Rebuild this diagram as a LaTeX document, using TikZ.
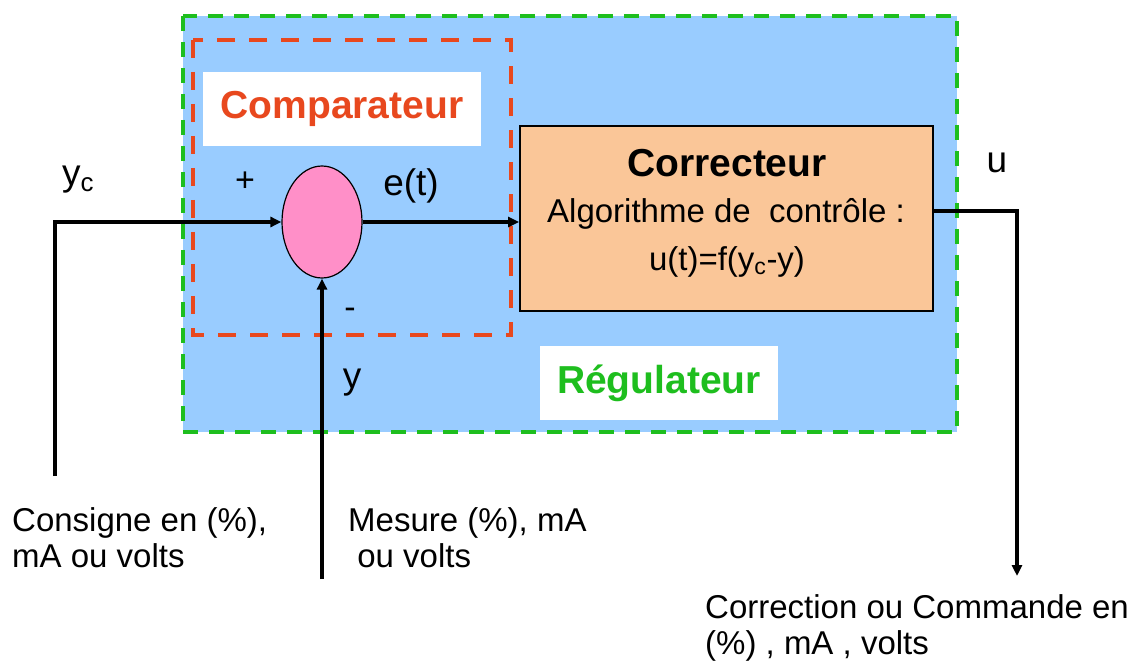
\documentclass[tikz,border=0pt]{standalone}
\usepackage{fontspec}
\setmainfont{Liberation Sans}
\usetikzlibrary{shapes.geometric,arrows.meta}
\definecolor{bgblue}{RGB}{153,204,255}
\definecolor{dgreen}{RGB}{30,190,30}
\definecolor{dred}{RGB}{232,72,30}
\definecolor{peach}{RGB}{250,198,152}
\definecolor{pinkish}{RGB}{255,143,200}
\tikzset{
  conn/.style={line width=3.4pt,-{Triangle[length=11pt,width=10pt]}},
  txt/.style={font=\fontsize{33}{36}\selectfont,inner sep=0pt},
  bigtxt/.style={font=\fontsize{37}{40}\selectfont,inner sep=0pt},
  title/.style={font=\fontsize{39}{42}\selectfont\bfseries,inner sep=0pt},
  sign/.style={font=\fontsize{34}{36}\selectfont,inner sep=0pt},
  whitebox/.style={fill=white,draw=none,minimum width=#1,minimum height=74pt,inner sep=0pt}
}
\begin{document}
\begin{tikzpicture}[x=1pt,y=-1pt]
\useasboundingbox (0,0) rectangle (1136,671);
% Regulateur frame
\draw[fill=bgblue,draw=dgreen,line width=4.5pt,dash pattern=on 15pt off 11pt] (183,16) rectangle (957,432);
% Comparateur frame
\draw[draw=dred,line width=4.5pt,dash pattern=on 18pt off 14pt] (193,40) rectangle (511,335);
% labels in white boxes
\node[whitebox=278pt,title,text=dred] (comp) at (342,109) {Comparateur};
\node[whitebox=238pt,title,text=dgreen] (reg) at (659,383) {Régulateur};
% Correcteur block
\node[draw=black,line width=1.8pt,fill=peach,minimum width=413pt,minimum height=185pt,inner sep=0pt] (corr) at (726.5,218.5) {};
\node[title] (corrt) at (727,163) {Correcteur};
\node[txt] (algo) at (726,214) {Algorithme de\ \ contrôle :};
\node[txt] (law) at (727,262) {u(t)=f(y\textsubscript{c}-y)};
% summing junction
\node[ellipse,draw=black,line width=1.2pt,fill=pinkish,minimum width=80pt,minimum height=112pt,inner sep=0pt] (sum) at (322,222) {};
% small labels
\node[sign] (plus) at (245,182) {+};
\node[sign] (minus) at (350,313) {-};
\node[bigtxt] (et) at (411,186) {e(t)};
\node[bigtxt] (ylab) at (352,383) {y};
\node[bigtxt] (ulab) at (997,163) {u};
\node[bigtxt] (yc) at (78,180) {y\textsubscript{c}};
% bottom texts
\node[txt,anchor=west,align=left] (cons) at (12,538) {Consigne en (\%),\\mA ou volts};
\node[txt,anchor=west,align=left] (mes) at (348,538) {Mesure (\%), mA\\\ ou volts};
\node[txt,anchor=west,align=left] (cmd) at (705,628) {Correction ou Commande en\\(\%) , mA , volts};
% connectors
\coordinate (ycin) at (55,476);
\coordinate (ymeas) at (322,579);
\coordinate (uout) at (1017,576);
\draw[conn] (ycin) |- (sum.west);
\draw[conn] (sum.east) -- (corr.west |- sum.east);
\draw[conn] (ymeas) -- (sum.south);
\draw[conn] (corr.east |- 0,211) -| (uout);
\end{tikzpicture}
\end{document}
